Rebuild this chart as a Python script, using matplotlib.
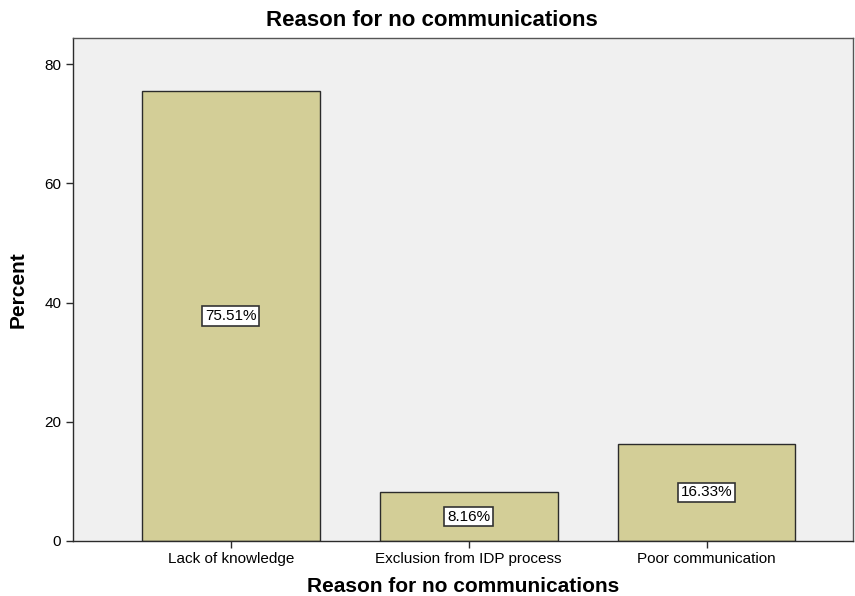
import matplotlib.pyplot as plt
import numpy as np

plt.rcParams['font.family'] = ['Liberation Sans', 'DejaVu Sans']

# %% Data
categories = ['Lack of knowledge', 'Exclusion from IDP process', 'Poor communication']
percent = [75.51, 8.16, 16.33]
yticks = [0, 20, 40, 60, 80]

# %% Plot
fig = plt.figure(figsize=(8.55, 5.96), dpi=100)
ax = fig.add_axes([0.0854, 0.0923, 0.912, 0.844])
ax.set_facecolor('#f0f0f0')

x = np.arange(len(categories))
ax.bar(x, percent, width=0.748, color='#d3ce97', edgecolor='#2b2b2b', linewidth=1.0, zorder=2)

for xi, p in zip(x, percent):
    ax.text(xi, p / 2, f'{p:.2f}%', ha='center', va='center', fontsize=11,
            bbox=dict(boxstyle='square,pad=0.18', facecolor='white', edgecolor='#333333', linewidth=1.2),
            zorder=3)

ax.set_xlim(-0.664, 2.615)
ax.set_ylim(0, 84.4)
ax.set_xticks(x)
ax.set_xticklabels(categories, fontsize=11)
ax.set_yticks(yticks)
ax.tick_params(axis='y', labelsize=11, length=5, width=1, color='#2b2b2b')
ax.tick_params(axis='x', length=5, width=1, color='#2b2b2b', pad=3)
for s in ax.spines.values():
    s.set_color('#555555')
    s.set_linewidth(1.0)
ax.spines['left'].set_color('#2b2b2b')
ax.spines['bottom'].set_color('#2b2b2b')

fig.text(432 / 855, 1 - 21 / 596, 'Reason for no communications', fontsize=16,
         fontweight='bold', ha='center', va='center')
ax.set_xlabel('Reason for no communications', fontsize=15, fontweight='bold', labelpad=8)
ax.set_ylabel('Percent', fontsize=15, fontweight='bold', labelpad=12)

fig.savefig('out.png', dpi=100)
